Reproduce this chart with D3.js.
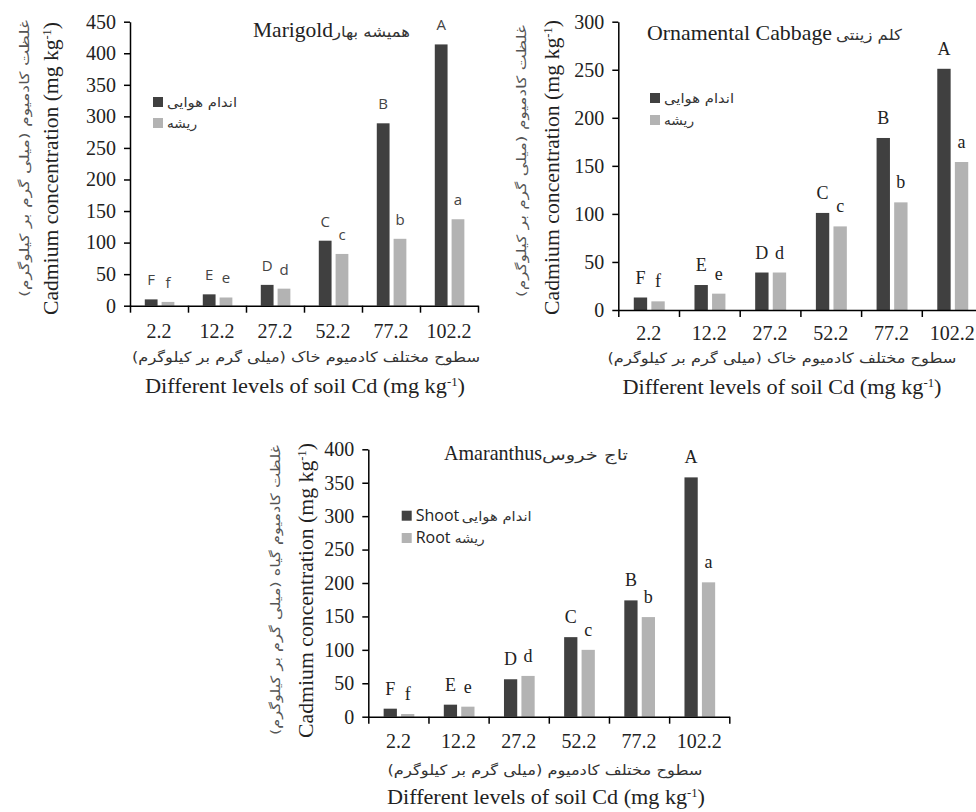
<!DOCTYPE html>
<html>
<head>
<meta charset="utf-8">
<script src="https://cdn.jsdelivr.net/npm/d3@7"></script>
<style>
  body { margin: 0; background: #fff; }
  svg { display: block; }
</style>
</head>
<body>
<svg id="chart" width="976" height="812"></svg>
<script>
// soil Cd levels (mg/kg)
var levels = ["2.2", "12.2", "27.2", "52.2", "77.2", "102.2"];
var shootLetters = ["F", "E", "D", "C", "B", "A"];
var rootLetters = ["f", "e", "d", "c", "b", "a"];

var marigoldShoot = [10, 18, 33, 103, 289, 414];
var marigoldRoot = [6, 13, 27, 82, 106, 137];
var cabbageShoot = [13, 26, 39, 101, 179, 251];
var cabbageRoot = [9, 17, 39, 87, 112, 154];
var amaranthusShoot = [12, 18, 56, 119, 174, 358];
var amaranthusRoot = [4, 15, 61, 100, 149, 201];

var yTicksMarigold = [0, 50, 100, 150, 200, 250, 300, 350, 400, 450];
var yTicksCabbage = [0, 50, 100, 150, 200, 250, 300];
var yTicksAmaranthus = [0, 50, 100, 150, 200, 250, 300, 350, 400];

var SERIF = '"Liberation Serif", "Times New Roman", serif';
var FA = '"DejaVu Sans", sans-serif';
var shootColor = '#404040', rootColor = '#b3b3b3';
var svg = d3.select('#chart');

// ══════════════════════════════════════════════════════════════════
// one panel
// ══════════════════════════════════════════════════════════════════
function drawPanel(p) {
  var g = svg.append('g');
  var x = d3.scaleBand().domain(levels).range([p.x0, p.x1]);
  var bw = x.bandwidth();
  var sub = d3.scaleBand().domain(['shoot', 'root'])
    .range([0.255 * bw, 0.765 * bw]).paddingInner(0.24);
  var y = d3.scaleLinear().domain([0, d3.max(p.yTicks)]).range([p.yBase, p.yTop]);

  var rows = levels.map(function(l, i) {
    return { level: l, shoot: p.shoot[i], root: p.root[i], ls: shootLetters[i], lr: rootLetters[i] };
  });

  // bars
  ['shoot', 'root'].forEach(function(k) {
    g.selectAll('rect.' + k).data(rows).join('rect')
      .attr('class', k)
      .attr('x', function(d) { return x(d.level) + sub(k); })
      .attr('width', sub.bandwidth())
      .attr('y', function(d) { return y(d[k]); })
      .attr('height', function(d) { return y(0) - y(d[k]); })
      .attr('fill', k === 'shoot' ? shootColor : rootColor);
  });

  // significance letters
  [['shoot', 'ls'], ['root', 'lr']].forEach(function(pair) {
    g.selectAll('text.' + pair[1]).data(rows).join('text')
      .attr('class', pair[1])
      .attr('x', function(d) { return x(d.level) + sub(pair[0]) + sub.bandwidth() / 2; })
      .attr('y', function(d) { return y(d[pair[0]]) - 14; })
      .attr('text-anchor', 'middle')
      .style('font-family', p.letterFont)
      .style('font-size', p.letterSize + 'px')
      .attr('fill', p.letterColor)
      .text(function(d) { return d[pair[1]]; });
  });

  // y axis
  var ya = g.append('g').attr('transform', 'translate(' + p.x0 + ',0)')
    .call(d3.axisLeft(y).tickValues(p.yTicks).tickSize(6).tickPadding(8).tickSizeOuter(0));
  ya.attr('font-family', null).attr('font-size', null);
  ya.selectAll('text').style('font-family', SERIF).style('font-size', '20px').attr('fill', '#222');

  // x axis with boundary ticks
  var xb = d3.scaleLinear().domain([0, levels.length]).range([p.x0, p.x1]);
  g.append('g').attr('transform', 'translate(0,' + p.yBase + ')')
    .call(d3.axisBottom(xb).ticks(levels.length).tickSize(7).tickFormat('').tickSizeOuter(0));
  var xl = g.append('g').attr('transform', 'translate(0,' + p.yBase + ')')
    .call(d3.axisBottom(x).tickSize(0).tickPadding(p.tickPad));
  xl.attr('font-family', null).attr('font-size', null);
  xl.select('.domain').remove();
  xl.selectAll('text').style('font-family', SERIF).style('font-size', '20px').attr('fill', '#222');

  g.selectAll('.domain, .tick line').attr('stroke', '#000').attr('stroke-width', 1.5);

  // axis titles
  var yl = g.append('text')
    .attr('transform', 'translate(' + p.yTitle[0] + ',' + p.yTitle[1] + ') rotate(-90)')
    .attr('text-anchor', 'middle').style('font-family', SERIF).style('font-size', '21px').attr('fill', '#222')
    .attr('textLength', p.yTitle[2]).attr('lengthAdjust', 'spacingAndGlyphs');
  yl.append('tspan').text('Cadmium concentration (mg kg');
  yl.append('tspan').attr('baseline-shift', 'super').style('font-size', '12px').text('-1');
  yl.append('tspan').text(')');

  g.append('text')
    .attr('transform', 'translate(' + p.yFa[0] + ',' + p.yFa[1] + ') rotate(-90)')
    .attr('text-anchor', 'middle').style('font-family', FA).style('font-size', '13px').attr('fill', '#555')
    .attr('textLength', p.yFa[2]).attr('lengthAdjust', 'spacingAndGlyphs')
    .text(p.yFaText);

  g.append('text')
    .attr('x', p.xFa[0]).attr('y', p.xFa[1])
    .attr('text-anchor', 'middle').style('font-family', FA).style('font-size', '14px').attr('fill', '#333')
    .attr('textLength', p.xFa[2]).attr('lengthAdjust', 'spacingAndGlyphs')
    .text(p.xFaText);

  var xt = g.append('text')
    .attr('x', p.xTitle[0]).attr('y', p.xTitle[1])
    .attr('text-anchor', 'middle').style('font-family', SERIF).style('font-size', '21px').attr('fill', '#222')
    .attr('textLength', p.xTitle[2]).attr('lengthAdjust', 'spacingAndGlyphs');
  xt.append('tspan').text('Different levels of soil Cd (mg kg');
  xt.append('tspan').attr('baseline-shift', 'super').style('font-size', '12px').text('-1');
  xt.append('tspan').text(')');

  // panel title: latin + persian
  g.append('text')
    .attr('x', p.title[0]).attr('y', p.title[1])
    .style('font-family', SERIF).style('font-size', '21px').attr('fill', '#222')
    .attr('textLength', p.title[2]).attr('lengthAdjust', 'spacingAndGlyphs')
    .text(p.titleEn);
  g.append('text')
    .attr('x', p.titleFa[0]).attr('y', p.titleFa[1])
    .style('font-family', FA).style('font-size', '15px').attr('fill', '#333')
    .attr('textLength', p.titleFa[2]).attr('lengthAdjust', 'spacingAndGlyphs')
    .text(p.titleFaText);

  // legend
  var lg = g.append('g').attr('transform', 'translate(' + p.legend[0] + ',' + p.legend[1] + ')');
  var items = [
    { c: shootColor, en: p.legendEn ? 'Shoot' : '', fa: 'اندام هوایی', faW: 70, enW: 45 },
    { c: rootColor, en: p.legendEn ? 'Root' : '', fa: 'ریشه', faW: 30, enW: 38 }
  ];
  items.forEach(function(it, i) {
    var row = lg.append('g').attr('transform', 'translate(0,' + (i * p.legend[2]) + ')');
    row.append('rect').attr('width', 10).attr('height', 10).attr('fill', it.c);
    var tx = 14;
    if (it.en) {
      row.append('text').attr('x', tx).attr('y', 10)
        .style('font-family', '"Open Sans", sans-serif').style('font-size', '16px')
        .attr('fill', '#222').text(it.en);
      tx += it.enW + 1;
    }
    row.append('text').attr('x', tx).attr('y', 10)
      .style('font-family', FA).style('font-size', '13px').attr('fill', '#333')
      .attr('textLength', it.faW).attr('lengthAdjust', 'spacingAndGlyphs')
      .text(it.fa);
  });
}

drawPanel({
  x0: 130, x1: 478, yTop: 21.7, yBase: 305.7, yTicks: yTicksMarigold,
  shoot: marigoldShoot, root: marigoldRoot,
  letterFont: '"Open Sans", sans-serif', letterSize: 15, letterColor: '#444', tickPad: 18,
  yTitle: [58, 168.5, 293], yFa: [29, 158.5, 277],
  yFaText: 'غلظت کادمیوم (میلی گرم بر کیلوگرم)',
  xFa: [306, 362, 348], xFaText: 'سطوح مختلف کادمیوم خاک (میلی گرم بر کیلوگرم)',
  xTitle: [305, 393, 320],
  title: [253, 37, 80], titleEn: 'Marigold',
  titleFa: [333, 37, 77], titleFaText: 'همیشه بهار',
  legend: [153, 97, 21], legendEn: false
});

drawPanel({
  x0: 618.3, x1: 982.5, yTop: 21.7, yBase: 310, yTicks: yTicksCabbage,
  shoot: cabbageShoot, root: cabbageRoot,
  letterFont: SERIF, letterSize: 18, letterColor: '#222', tickPad: 16,
  yTitle: [559, 167.5, 295], yFa: [526, 161, 272],
  yFaText: 'غلظت کادمیوم (میلی گرم بر کیلوگرم)',
  xFa: [782, 363, 349], xFaText: 'سطوح مختلف کادمیوم خاک (میلی گرم بر کیلوگرم)',
  xTitle: [782, 394, 319],
  title: [647, 40, 185], titleEn: 'Ornamental Cabbage',
  titleFa: [836, 40, 66], titleFaText: 'کلم زینتی',
  legend: [650, 93, 22], legendEn: false
});

drawPanel({
  x0: 368.3, x1: 729.3, yTop: 449.3, yBase: 716.7, yTicks: yTicksAmaranthus,
  shoot: amaranthusShoot, root: amaranthusRoot,
  letterFont: SERIF, letterSize: 18, letterColor: '#222', tickPad: 17,
  yTitle: [313, 590.5, 295], yFa: [280, 590, 290],
  yFaText: 'غلظت کادمیوم گیاه (میلی گرم بر کیلوگرم)',
  xFa: [545, 775, 315], xFaText: 'سطوح مختلف کادمیوم (میلی گرم بر کیلوگرم)',
  xTitle: [546, 804, 318],
  title: [444, 460, 98], titleEn: 'Amaranthus',
  titleFa: [542, 460, 86], titleFaText: 'تاج خروس',
  legend: [401.7, 510.7, 22.3], legendEn: true
});
</script>
</body>
</html>
